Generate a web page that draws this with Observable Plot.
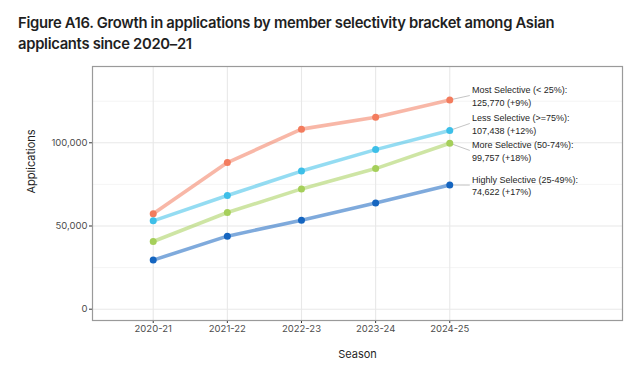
<!DOCTYPE html>
<html>
<head>
<meta charset="utf-8">
<script src="https://cdn.jsdelivr.net/npm/d3@7"></script>
<script src="https://cdn.jsdelivr.net/npm/@observablehq/plot@0.6"></script>
<style>
  html, body { margin: 0; padding: 0; background: #fff; }
  #title { box-sizing: border-box; height: 60px; padding: 13px 0 0 18px; font: 600 14.8px Inter, sans-serif; line-height: 21px; color: #1f1f1f; letter-spacing: -0.3px; }
  #chart svg { display: block; }
  #chart svg text { font-variant-numeric: normal; }
</style>
</head>
<body>
<div id="title">Figure A16. Growth in applications by member selectivity bracket among Asian<br>applicants since 2020–21</div>
<div id="chart"></div>
<script>
const seasons = ["2020-21", "2021-22", "2022-23", "2023-24", "2024-25"];
const groups = ["Most Selective (< 25%)", "Less Selective (>=75%)", "More Selective (50-74%)", "Highly Selective (25-49%)"];
const mostSelective = [57300, 88100, 108200, 115400, 125770];
const lessSelective = [53100, 68300, 83000, 95900, 107438];
const moreSelective = [40700, 58100, 72300, 84500, 99757];
const highlySelective = [29500, 43900, 53500, 63800, 74622];
const growth = ["+9%", "+12%", "+18%", "+17%"];
const labelValues = [128400, 111600, 95400, 74600];
const pointColors = ["#f37c5e", "#3dbfe8", "#a5cf5a", "#1565c0"];
const yTicks = [0, 50000, 100000];
const yMinor = [25000, 75000, 125000];

const series = [mostSelective, lessSelective, moreSelective, highlySelective];
const rows = [];
series.forEach((vals, i) => vals.forEach((v, j) => rows.push({group: groups[i], gi: i, x: j, v})));
const ends = series.map((vals, i) => ({
  gi: i, x: vals.length - 1, v: vals[vals.length - 1], ly: labelValues[i],
  label: groups[i] + ":\n" + d3.format(",")(vals[vals.length - 1]) + " (" + growth[i] + ")"
}));

const color = {domain: d3.range(groups.length), range: pointColors};

const chart = Plot.plot({
  width: 637, height: 319,
  marginLeft: 92, marginRight: 15, marginTop: 6, marginBottom: 59,
  style: {fontFamily: "Inter, sans-serif", background: "#fff", fontVariant: "normal"},
  x: {domain: [-0.819, 6.33]},
  y: {domain: [-6790, 145850]},
  color,
  marks: [
    Plot.gridY(yMinor, {stroke: "#ececec", strokeOpacity: 1, strokeWidth: 0.6}),
    Plot.gridY(yTicks, {stroke: "#e8e8e8", strokeOpacity: 1, strokeWidth: 1.1}),
    Plot.gridX(d3.range(seasons.length), {stroke: "#e8e8e8", strokeOpacity: 1, strokeWidth: 1.1}),
    Plot.axisX(d3.range(seasons.length), {tickFormat: i => seasons[i], tickSize: 3, tickPadding: 2, fontSize: 9.5, color: "#4d4d4d", stroke: "#333", label: null, fontVariant: "normal"}),
    Plot.axisY(yTicks, {tickFormat: d3.format(","), tickSize: 3, tickPadding: 2, fontSize: 9.5, color: "#4d4d4d", stroke: "#333", label: null, fontVariant: "normal"}),
    Plot.frame({stroke: "#9a9a9a", strokeWidth: 1.2}),
    Plot.text(["Season"], {frameAnchor: "bottom", dy: 34, fontSize: 11, fill: "#1f1f1f", lineAnchor: "middle"}),
    Plot.text(["Applications"], {frameAnchor: "left", dx: -61, rotate: -90, fontSize: 11, fill: "#1f1f1f", lineAnchor: "middle"}),
    Plot.line(rows, {x: "x", y: "v", z: "gi", stroke: d => d.gi, strokeWidth: 3.6, strokeOpacity: 0.55, strokeLinecap: "round", strokeLinejoin: "round"}),
    Plot.link(ends, {x1: "x", y1: "v", x2: 4.27, y2: "ly", stroke: "#b5b5b5", strokeWidth: 0.8}),
    Plot.dot(rows, {x: "x", y: "v", fill: d => d.gi, r: 3.5}),
    Plot.text(ends, {x: 4.3, y: "ly", text: "label", textAnchor: "start", lineAnchor: "middle", lineHeight: 1.4, fontSize: 9, fill: "#262626", fontFamily: "Liberation Sans, Arial, sans-serif"})
  ]
});
document.getElementById("chart").append(chart);
</script>
</body>
</html>
